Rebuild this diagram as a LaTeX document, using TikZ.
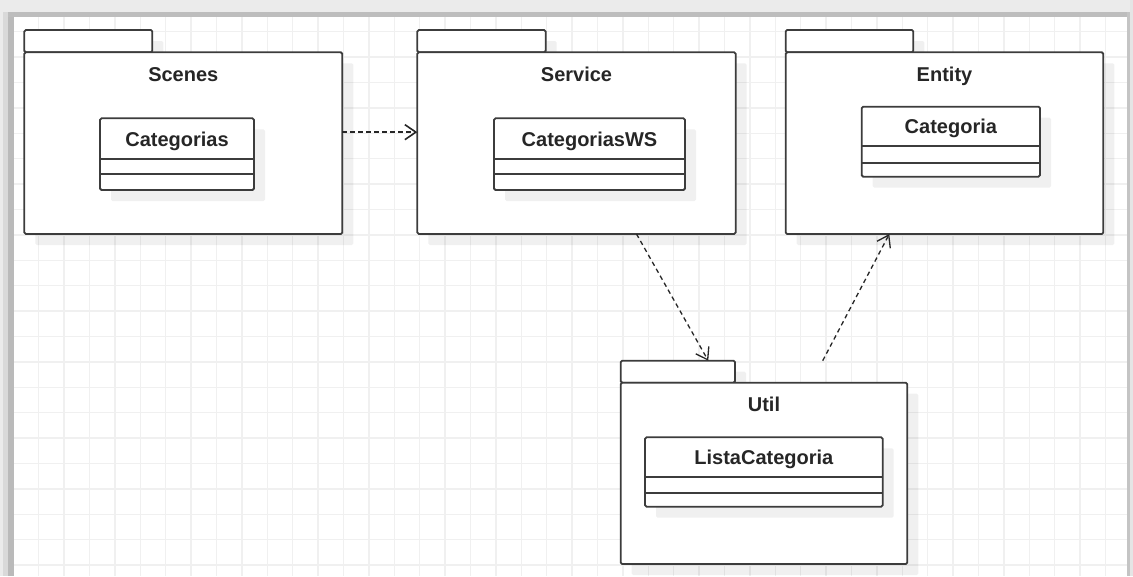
\documentclass[tikz,border=0pt]{standalone}
\usepackage{fontspec}
\setmainfont{Liberation Sans}
\usetikzlibrary{arrows.meta,shadows,calc}
\definecolor{edge}{HTML}{3C3C3C}
\definecolor{ink}{HTML}{262626}
\definecolor{gridc}{HTML}{F0F0F0}
\tikzset{
  box/.style={draw=edge, line width=1.8pt, fill=white, rounded corners=1.5pt,
    anchor=north west, inner sep=0pt, outer sep=0pt,
    drop shadow={shadow xshift=11pt, shadow yshift=-11pt, fill=black, opacity=0.06}},
  rule/.style={draw=edge, line width=1.8pt},
  title/.style={font=\fontsize{20}{24}\selectfont\bfseries, text=ink, anchor=base, inner sep=0pt},
  dep/.style={draw=ink, line width=1.3pt, dash pattern=on 4.5pt off 3.5pt,
    -{Straight Barb[length=11pt,width=15pt]}},
}
\begin{document}
\begin{tikzpicture}[x=1pt,y=-1pt]
% canvas
\fill[white] (0,0) rectangle (1133,576);
\useasboundingbox (0,0) rectangle (1133,576);
% grid
\begin{scope}
  \clip (14,17) rectangle (1127,576);
  \foreach \k in {-1,...,43} \draw[gridc, line width=1.3pt] ({38.7+25.4*\k},0) -- ({38.7+25.4*\k},576);
  \foreach \k in {-1,...,22} \draw[gridc, line width=1.3pt] (0,{31.7+25.4*\k}) -- (1133,{31.7+25.4*\k});
\end{scope}
% window frame
\fill[black!8] (0,0) rectangle (1133,12);
\fill[black!8] (0,0) rectangle (3,576);
\fill[black!15] (3,12) rectangle (8,576);
\fill[black!27] (8,12) rectangle (14,576);
\fill[black!26] (8,12) rectangle (1127,17);
\fill[black!23] (1127,12) rectangle (1129.5,576);
\fill[black!10] (1129.5,0) rectangle (1133,576);

% package Scenes
\node[box, minimum width=128pt, minimum height=22.3pt] (scenes-tab) at (24.3,30) {};
\node[box, minimum width=318pt, minimum height=181.7pt] (scenes) at (24.3,52.3) {};
\node[title] (scenes-name) at ([yshift=-29.4pt]scenes.north) {Scenes};
\node[box, minimum width=154pt, minimum height=71.7pt] (categorias) at (100,118.3) {};
\draw[rule] ([yshift=-40.7pt]categorias.north west) -- ([yshift=-40.7pt]categorias.north east);
\draw[rule] ([yshift=-56pt]categorias.north west) -- ([yshift=-56pt]categorias.north east);
\node[title] (categorias-name) at ([yshift=-28pt]categorias.north) {Categorias};

% package Service
\node[box, minimum width=128.4pt, minimum height=22.3pt] (service-tab) at (417.3,30) {};
\node[box, minimum width=318.4pt, minimum height=181.7pt] (service) at (417.3,52.3) {};
\node[title] (service-name) at ([yshift=-29.4pt]service.north) {Service};
\node[box, minimum width=191pt, minimum height=71.7pt] (categoriasws) at (494,118.3) {};
\draw[rule] ([yshift=-40.7pt]categoriasws.north west) -- ([yshift=-40.7pt]categoriasws.north east);
\draw[rule] ([yshift=-56pt]categoriasws.north west) -- ([yshift=-56pt]categoriasws.north east);
\node[title] (categoriasws-name) at ([yshift=-28pt]categoriasws.north) {CategoriasWS};

% package Entity
\node[box, minimum width=127.6pt, minimum height=22.3pt] (entity-tab) at (785.7,30) {};
\node[box, minimum width=317.6pt, minimum height=181.7pt] (entity) at (785.7,52.3) {};
\node[title] (entity-name) at ([yshift=-29.4pt]entity.north) {Entity};
\node[box, minimum width=178.3pt, minimum height=70pt] (categoria) at (861.7,106.7) {};
\draw[rule] ([yshift=-39.3pt]categoria.north west) -- ([yshift=-39.3pt]categoria.north east);
\draw[rule] ([yshift=-56pt]categoria.north west) -- ([yshift=-56pt]categoria.north east);
\node[title] (categoria-name) at ([yshift=-27pt]categoria.north) {Categoria};

% package Util
\node[box, minimum width=114.3pt, minimum height=22pt] (util-tab) at (620.7,360.7) {};
\node[box, minimum width=286.6pt, minimum height=181.3pt] (util) at (620.7,382.7) {};
\node[title] (util-name) at ([yshift=-29.2pt]util.north) {Util};
\node[box, minimum width=237.7pt, minimum height=69.4pt] (listacategoria) at (645,437.3) {};
\draw[rule] ([yshift=-39.4pt]listacategoria.north west) -- ([yshift=-39.4pt]listacategoria.north east);
\draw[rule] ([yshift=-56pt]listacategoria.north west) -- ([yshift=-56pt]listacategoria.north east);
\node[title] (listacategoria-name) at ([yshift=-27pt]listacategoria.north) {ListaCategoria};

% dependencies
\draw[dep, line width=1.6pt] ([yshift=11pt]scenes.east) -- ([yshift=11pt]service.west);
\draw[dep] ([xshift=60pt]service.south) -- ([xshift=30.4pt]util-tab.north);
\coordinate (util-top) at ($(util.north)+(58.7,-22)$);
\draw[dep] (util-top) -- ([xshift=-55.2pt]entity.south);
\end{tikzpicture}
\end{document}
